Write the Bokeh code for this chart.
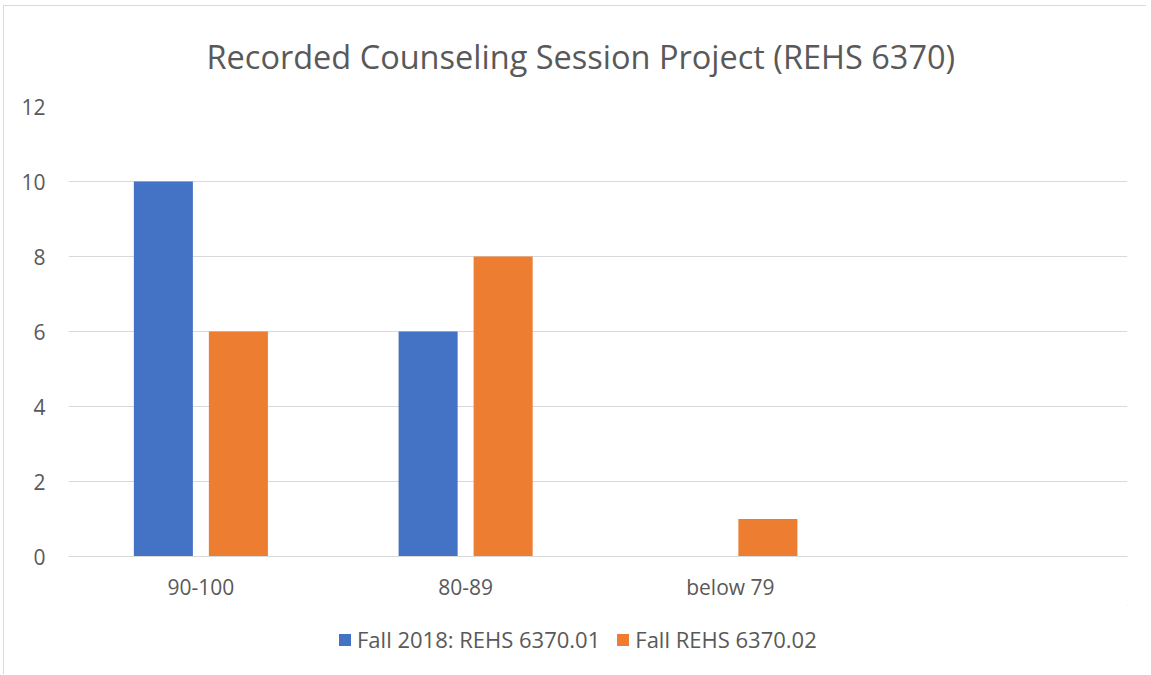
from bokeh.plotting import figure
from bokeh.layouts import column
from bokeh.models import FactorRange, ColumnDataSource, Legend, LegendItem, FixedTicker
from bokeh.transform import dodge
from bokeh.embed import file_html
from bokeh.resources import INLINE

categories = ["90-100", "80-89", "below 79", " "]
series_names = ["Fall 2018: REHS 6370.01", "Fall REHS 6370.02"]
fall_01 = [10, 6, 0, 0]
fall_02 = [6, 8, 1, 0]
y_ticks = [0, 2, 4, 6, 8, 10, 12]
colors = ["#4472C4", "#ED7D31"]

FONT = "Open Sans"
GREY = "#595959"
BORDER = "1px solid #d9d9d9"

src = ColumnDataSource(dict(cat=categories, a=fall_01, b=fall_02))

p = figure(x_range=FactorRange(*categories), y_range=(0, 12),
           width=1143, height=600, output_backend="svg", toolbar_location=None,
           min_border_left=64, min_border_right=20, min_border_top=100, min_border_bottom=50)
p.margin = (5, 0, 0, 3)

r1 = p.vbar(x=dodge("cat", -0.1417, range=p.x_range), top="a", width=0.223, source=src,
            color=colors[0], line_color=None)
r2 = p.vbar(x=dodge("cat", 0.1417, range=p.x_range), top="b", width=0.223, source=src,
            color=colors[1], line_color=None)

p.title.text = "Recorded Counseling Session Project (REHS 6370)"
p.title.align = "left"
p.title.vertical_align = "top"
p.title.text_font = FONT
p.title.text_font_size = "32.5px"
p.title.text_font_style = "normal"
p.title.text_color = GREY
p.title.offset = 138
p.title.standoff = 52

p.outline_line_color = None
p.xgrid.grid_line_color = None
p.ygrid.grid_line_color = "#d9d9d9"
p.ygrid.grid_line_width = 1
p.yaxis.ticker = FixedTicker(ticks=y_ticks)
p.yaxis.axis_line_color = None
p.yaxis.major_tick_line_color = None
p.yaxis.major_tick_out = 0
p.yaxis.minor_tick_line_color = None
p.yaxis.major_label_text_font = FONT
p.yaxis.major_label_text_font_size = "21px"
p.yaxis.major_label_text_color = GREY
p.yaxis.major_label_standoff = 23

p.xaxis.axis_line_color = "#d9d9d9"
p.xaxis.major_tick_line_color = None
p.xaxis.major_tick_out = 0
p.xaxis.minor_tick_line_color = None
p.xaxis.major_label_text_font = FONT
p.xaxis.major_label_text_font_size = "21px"
p.xaxis.major_label_text_color = GREY
p.xaxis.major_label_standoff = 16
p.styles = {"border-left": BORDER, "border-top": BORDER}

# legend strip below the chart (dummy renderers lie outside its visible range)
lf = figure(width=1143, height=69, output_backend="svg", toolbar_location=None,
            min_border=0, x_range=(0, 1), y_range=(0, 1),
            x_axis_location=None, y_axis_location=None)
lf.margin = (0, 0, 0, 3)
lf.grid.visible = False
lf.outline_line_color = None
l1 = lf.vbar(x=[5], top=[5], bottom=[4], width=0.1, color=colors[0], line_color=None)
l2 = lf.vbar(x=[5], top=[5], bottom=[4], width=0.1, color=colors[1], line_color=None)
legend = Legend(items=[LegendItem(label=series_names[0], renderers=[l1]),
                       LegendItem(label=series_names[1], renderers=[l2])],
                orientation="horizontal", location=(269, 20),
                label_text_font=FONT, label_text_font_size="22px", label_text_color=GREY,
                glyph_width=15, glyph_height=15, label_standoff=5, spacing=15,
                border_line_color=None, background_fill_alpha=0, margin=0, padding=0)
lf.add_layout(legend)
lf.styles = {"border-left": BORDER}

layout = column(p, lf, spacing=0)
open("out.html", "w").write(file_html(layout, INLINE))
